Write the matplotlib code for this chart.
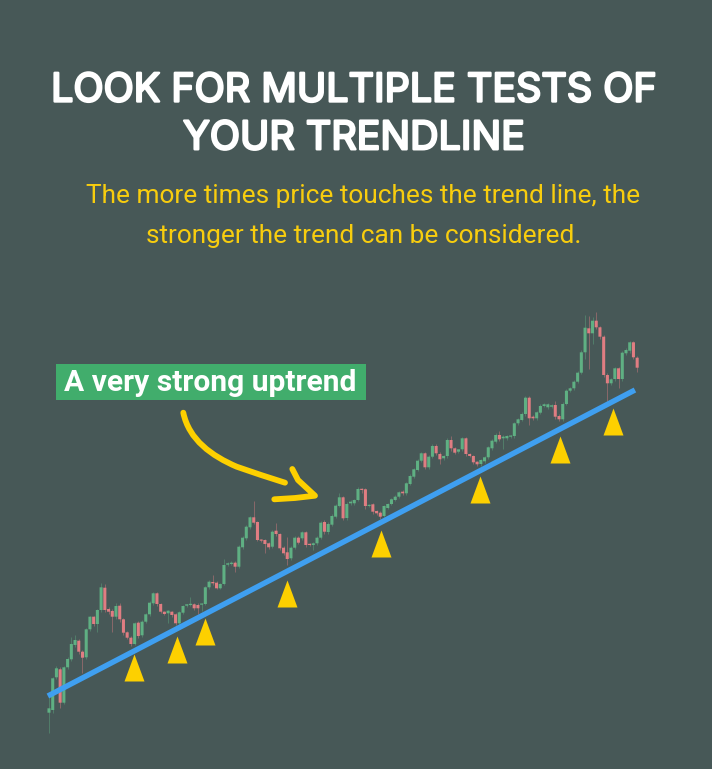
import matplotlib
matplotlib.use("Agg")
import matplotlib.pyplot as plt
import matplotlib.patheffects as pe
from matplotlib.path import Path
from matplotlib.patches import PathPatch, Rectangle

BG = "#475857"
GREEN = "#5fb083"
RED = "#e07d82"
YELLOW = "#fdd000"
BLUE = "#3f9ff0"

TITLE = ["LOOK FOR MULTIPLE TESTS OF", "YOUR TRENDLINE"]
SUBTITLE = ["The more times price touches the trend line, the",
            "stronger the trend can be considered."]
LABEL = "A very strong uptrend"

opens = [56.3,59,91.7,99.7,66.3,101.7,109.7,124,128.3,117.3,111.7,139.7,152.3,145,159,181.3,160,158,152.3,163.3,
         149.7,136.7,131.3,125,146.3,133.7,147.3,154.7,165.7,175.7,165,157.3,155.7,157.3,154.7,145.7,156.3,163.3,164,164.7,
         164,164.3,165,181.7,187,186.3,180.7,185,204.3,205,206.3,202.3,221.7,230.7,241.7,251.7,247,229,229,225.7,
         222.3,238.3,235,221.3,216.7,210.7,221.3,231.3,230.7,236.7,225,224,225.7,231.3,247,237,244.3,252.3,263,271.7,
         251,265.7,265.7,269,279.7,279.7,263,264.7,258,256.3,253,261,265,269,272.3,277.3,275.7,285,292.3,299,
         308.3,315.7,301.7,312.3,323,315,310.7,313,329,320.7,317.3,319.7,330.7,315,313,307.3,305,307.7,311.7,320.7,
         327.3,334,330.7,330.7,332.3,333,345.7,349,355,371.3,352.3,350.7,356.3,363,361.7,362.3,364,353,349.7,365,
         378.3,380.7,387.3,396.3,416.7,440.7,435.7,448.3,441.7,432.3,394,385.7,390,400.7,390,415.7,418.3,426.7,411.3]
closes = [60.7,90.7,100.7,66.3,101.7,110,125,129,117.3,111.3,139.7,152.3,145,159,181.7,159,157.3,152.3,163,149.7,
          136.3,131.3,125,145.7,133,147.3,154.7,166.3,175.7,165,157.3,155,158.3,154,145.7,156.7,163,164.7,164.7,160.7,
          160.7,165.3,181.7,187.3,185.7,180.7,185,204,205.7,206.3,202.3,222.3,231.3,242.3,251.7,246.3,229,228.3,225,221.7,
          237.3,235,220.7,215.7,210,221.3,231.3,226.3,236.7,224,224,225.7,231.3,246.3,237.3,245,253,263.3,271.7,250.7,
          265,267.3,269,280,279,263,264,257.3,255.7,252.3,263,265,269.7,272.3,276.7,275.7,285.7,293,299.7,308.3,
          315.7,301.7,312.3,323,315.7,309.7,313,329,320.7,316.3,319.7,330.7,315,313,306.7,304.7,309,311.7,321.7,328.3,
          334,329.7,332.3,333,333,345.7,349.7,355,371.3,350.7,350.7,356.7,363,364.7,364.7,363.7,352.3,349.7,365,378.3,
          380.7,387.3,396.3,416.7,441.3,435.7,448.3,441.7,432.3,394,385.7,389.7,400.7,390,416.3,419,426.7,411.7,401.3]
highs = [72.3,92,103,102,103,112,131.7,134,130,119,141,153.5,153.5,160,186.3,185,162,160,166,166,
         151,138,133,147,148,149,156,168,177,177,166,158,159,158,156,158,164,165.5,172.3,166,
         166,166,183,189,194,188,186,210,207,208,208,224,233,244,253,268.3,248,230,230,227,
         239,245.7,236,223,232.3,223,233,233,238,238,226,227,233,248,249,247,255,265,276.3,273,
         267,269,270,282,281,281,265,266,259,258,264,266,271,274,278,279,287,295,301,310,
         317,317,314,325,325,317,314,331,333,322,319,332,332,316,314,308,310,313,323,330,
         336,338,334,334,334,347,351,357,373,373,354,358,365,366,366,365,368,355,367,380,
         382,389,398,419,454,453,452,457,443,434,396,391,402,402,418,421,428,428,413]
lows = [35.7,56,90,60.7,65,100,108,122,115,95.7,110,138,143,137.3,157,157,155,137.3,150,147,
        134,130,123,124,131,132,146,153,164,163,156,154,145.7,152,144,144,155,162,163,159,
        155,158,164,180,184.5,180,180,184,203,204,197,201,220,229,240,245,228,227,215.7,220,
        221,233,219,214,204,209,220,225,229,222,223,219,224,230,235,235,243,251,262,249,
        249,264,264,268,276,260,262,255,254,250,252,260,264,268,271,274,274,284,291,298,
        307,300,300,311,314,305,309,311,318,315,316,318,313,312,305,303,303,306,310,319,
        326,328,320,329,331,331,344,348,353,344,349,349,355,362,360,361,350,348,348,364,
        377,379,386,395,410,400,425,440,430,392,368,384,388,381,388,414,416,410,397]

trend_index = [-0.3, 157.4]
trend_price = [73, 379]

test_index = [22.9, 34.3, 41.8, 64, 89.2, 115.8, 137.3, 151.4]
test_price = [114.7, 133, 150.7, 189, 239, 293, 333, 360.7]

fig = plt.figure(figsize=(7.12, 7.69), dpi=100, facecolor=BG)
ax = fig.add_axes([0, 0, 1, 1], facecolor=BG)
ax.set_xlim(-13.16, 178.1)
ax.set_ylim(0, 769)
ax.axis("off")

idx = list(range(len(opens)))
colors = [GREEN if c >= o else RED for o, c in zip(opens, closes)]
ax.vlines(idx, lows, highs, colors=colors, linewidth=0.6, alpha=0.5, zorder=2)
bars = ax.bar(idx, [max(abs(c - o), 1.2) for o, c in zip(opens, closes)],
              bottom=[min(o, c) for o, c in zip(opens, closes)],
              width=0.82, color=colors, linewidth=0, zorder=3)
for b in bars:
    b.set_snap(False)

ax.plot(trend_index, trend_price, color=BLUE, linewidth=3.9, solid_capstyle="butt", zorder=4)

tri = Path([(-10, -27), (10, -27), (0, 0), (-10, -27)], closed=True)
ax.plot(test_index, test_price, linestyle="none", marker=tri, markersize=54 * 0.72,
        color=YELLOW, markeredgewidth=0, zorder=5)

# overlay in pixel coordinates of the picture for text and hand-drawn arrow
ov = fig.add_axes([0, 0, 1, 1], facecolor="none")
ov.set_xlim(0, 712)
ov.set_ylim(769, 0)
ov.axis("off")

bold = [pe.withStroke(linewidth=1.7, foreground="white")]
ov.text(354, 101.5, TITLE[0], color="white", fontsize=28.4, fontfamily="Inter",
        ha="center", va="baseline", path_effects=bold)
ov.text(354, 149.3, TITLE[1], color="white", fontsize=28.4, fontfamily="Inter",
        ha="center", va="baseline", path_effects=bold)
ov.text(363.5, 203, SUBTITLE[0], color="#f8cd0e", fontsize=18.9, fontfamily="Roboto",
        ha="center", va="baseline")
ov.text(363.5, 243, SUBTITLE[1], color="#f8cd0e", fontsize=18.9, fontfamily="Roboto",
        ha="center", va="baseline")

ov.add_patch(Rectangle((56, 363.5), 309.7, 36.5, facecolor="#41ad6c", edgecolor="none"))
ov.text(210.5, 391, LABEL, color="white", fontsize=21.6, fontfamily="Roboto", fontweight="bold",
        ha="center", va="baseline")

curve = Path([(183.3, 412.7), (189, 440), (212, 456), (236.7, 466.7), (252, 472), (270, 478), (285, 482.7)],
             [Path.MOVETO, Path.CURVE4, Path.CURVE4, Path.CURVE4, Path.CURVE4, Path.CURVE4, Path.CURVE4])
ov.add_patch(PathPatch(curve, facecolor="none", edgecolor=YELLOW, linewidth=4.2, capstyle="round"))
ov.plot([292.3, 298, 315, 295, 274.3], [469, 480, 495.7, 498, 499.3], color=YELLOW, linewidth=4.2,
        solid_capstyle="round", solid_joinstyle="round")

fig.savefig("out.png", dpi=100, facecolor=BG)
